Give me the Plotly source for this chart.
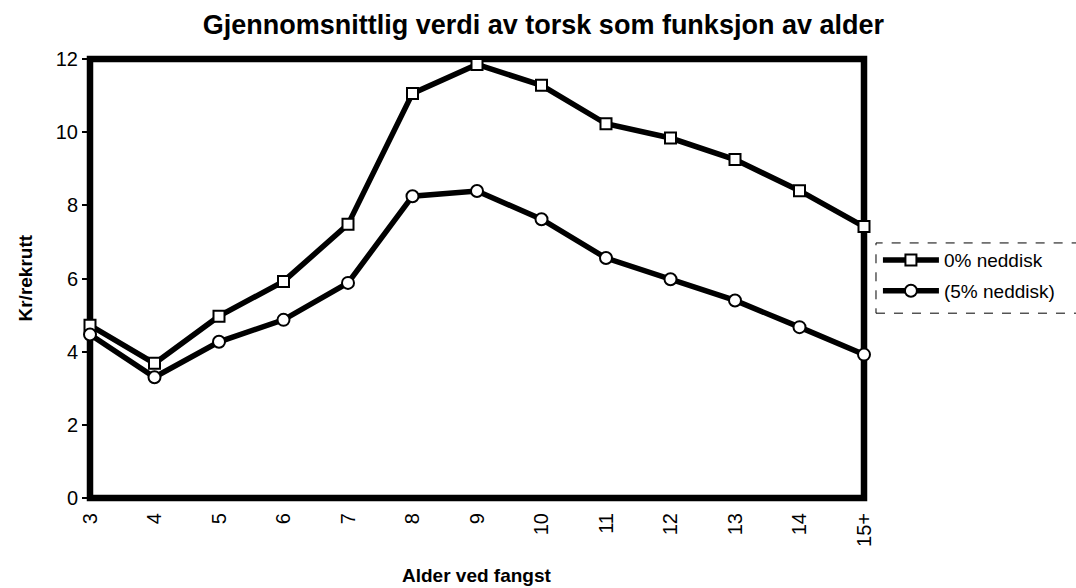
import plotly.graph_objects as go

categories = ["3", "4", "5", "6", "7", "8", "9", "10", "11", "12", "13", "14", "15+"]
series_0 = [4.72, 3.68, 4.97, 5.92, 7.48, 11.06, 11.85, 11.28, 10.23, 9.84, 9.25, 8.40, 7.42]
series_5 = [4.47, 3.30, 4.27, 4.87, 5.88, 8.25, 8.39, 7.62, 6.56, 5.98, 5.40, 4.67, 3.92]
name_0 = "0% neddisk"
name_5 = "(5% neddisk)"
y_ticks = [0, 2, 4, 6, 8, 10, 12]

FONT = "Liberation Sans, Arial, sans-serif"
xs = list(range(len(categories)))
last = len(categories) - 1

fig = go.Figure()
fig.add_trace(go.Scatter(
    x=xs, y=series_0, name=name_0, mode="lines+markers", legendgroup="a",
    line=dict(color="black", width=5.5),
    marker=dict(symbol="square", size=11, color="white", line=dict(color="black", width=2)),
    cliponaxis=False,
))
fig.add_trace(go.Scatter(
    x=xs, y=series_5, name=name_5, mode="lines+markers", legendgroup="b",
    line=dict(color="black", width=5.5),
    marker=dict(symbol="circle", size=12, color="white", line=dict(color="black", width=2)),
    cliponaxis=False,
))

fig.update_layout(
    width=1076, height=588,
    margin=dict(l=90, r=212, t=59, b=90, autoexpand=False),
    paper_bgcolor="white", plot_bgcolor="rgba(0,0,0,0)",
    font=dict(family=FONT, color="black", size=20),
    title=dict(text="<b>Gjennomsnittlig verdi av torsk som funksjon av alder</b>",
               x=0.505, xanchor="center", y=0.958, yanchor="middle",
               font=dict(size=27, family=FONT)),
    showlegend=True,
    legend=dict(x=1.018, y=0.585, xanchor="left", yanchor="top",
                bgcolor="rgba(0,0,0,0)", borderwidth=0, traceorder="grouped",
                font=dict(size=19, family=FONT), itemwidth=56,
                tracegroupgap=3),
    xaxis=dict(
        range=[0, last], tickmode="array", tickvals=xs, ticktext=categories,
        tickangle=-90, showgrid=False, zeroline=False, showline=False,
        ticks="outside", ticklen=6, tickcolor="rgba(0,0,0,0)",
        tickfont=dict(size=20, family=FONT),
    ),
    yaxis=dict(
        range=[0, 12], tickmode="array", tickvals=y_ticks,
        showgrid=False, zeroline=False, showline=False,
        ticks="outside", ticklen=7, tickwidth=1.5, tickcolor="black",
        tickfont=dict(size=20, family=FONT),
    ),
    annotations=[
        dict(text="<b>Alder ved fangst</b>", xref="paper", yref="paper",
             x=0.5, y=-(575 - 498) / 439, xanchor="center", yanchor="middle",
             showarrow=False, font=dict(size=19, family=FONT)),
        dict(text="<b>Kr/rekrutt</b>", xref="paper", yref="paper",
             x=-(90 - 25) / 774, y=0.5, xanchor="center", yanchor="middle",
             textangle=-90, showarrow=False, font=dict(size=19, family=FONT)),
    ],
)

# plot frame centred on the plot-area edges (data edges)
fig.add_shape(type="rect", xref="paper", yref="paper", x0=0, x1=1, y0=0, y1=1,
              line=dict(color="black", width=6.5), layer="below")

# dashed legend frame
fig.add_shape(type="rect", xref="paper", yref="paper",
              x0=1.0155, x1=1.3, y0=0.421, y1=0.581,
              line=dict(color="black", width=1, dash="dash"))

fig.write_html("out.html", config={"displayModeBar": False},
               post_script="document.body.style.margin='0';document.body.style.overflow='hidden';")
